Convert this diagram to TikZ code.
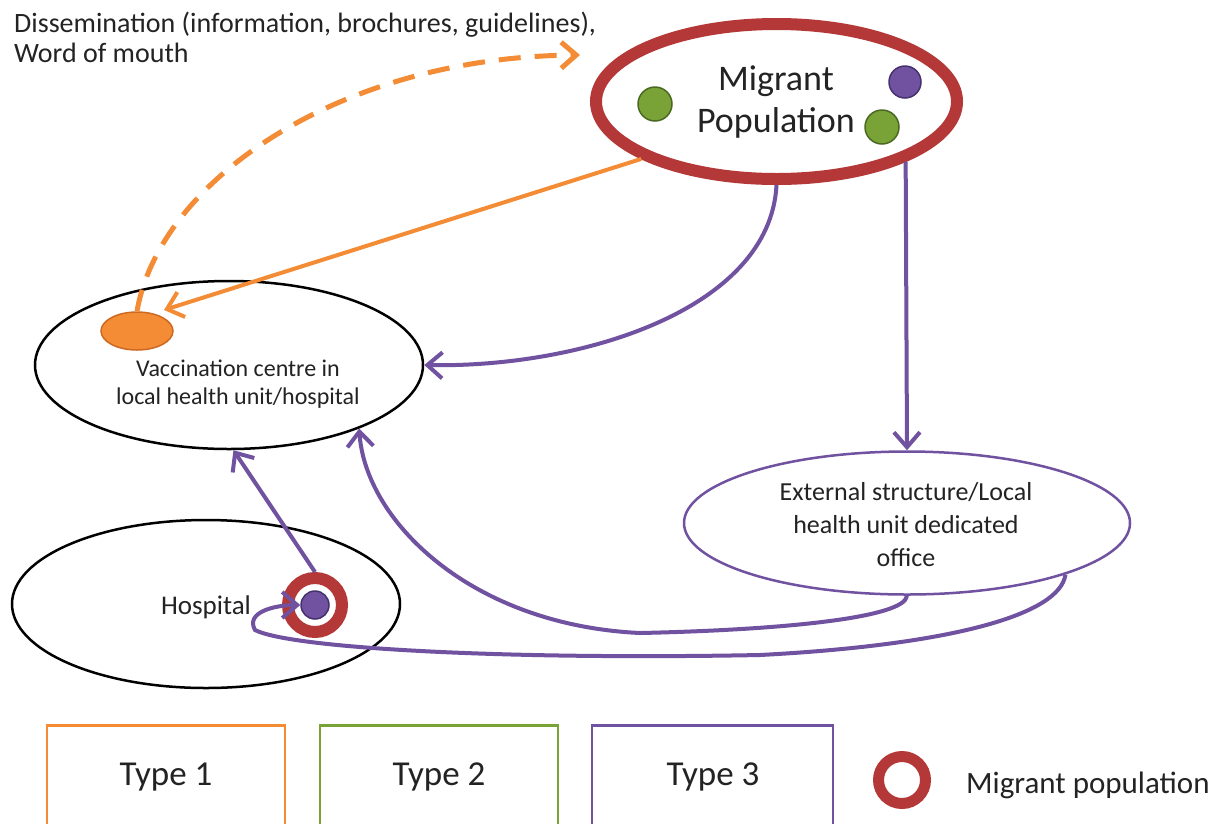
\documentclass[tikz,border=0pt]{standalone}
\usepackage{fontspec}
\setmainfont{Carlito}
\usetikzlibrary{arrows.meta,shapes.geometric}
\definecolor{orng}{RGB}{243,140,52}
\definecolor{orngd}{RGB}{205,105,35}
\definecolor{purp}{RGB}{112,82,160}
\definecolor{purpd}{RGB}{70,50,110}
\definecolor{grn}{RGB}{122,163,55}
\definecolor{grnd}{RGB}{75,105,35}
\definecolor{redr}{RGB}{181,56,56}
\definecolor{txt}{RGB}{35,35,35}
\begin{document}
\begin{tikzpicture}[x=1pt,y=-1pt,
  ell/.style={ellipse,draw,inner sep=0pt},
  tip/.style={-{Straight Barb[length=15pt,width=26pt]}},
  oline/.style={draw=orng,line width=4pt,tip},
  pline/.style={draw=purp,line width=4pt,tip},
  dot/.style={circle,inner sep=0pt,minimum size=#1,line width=1.5pt},
  lbox/.style={draw=#1,line width=2.7pt,minimum width=238pt,minimum height=100pt,inner sep=0pt,anchor=north},
  txtn/.style={text=txt,align=center,inner sep=0pt}
]
\clip (0,0) rectangle (1220,823);
\fill[white] (0,0) rectangle (1220,823);

% migrant population
\node[ell,draw=redr,line width=12pt,minimum width=361pt,minimum height=155pt] (mig) at (776.5,101.5) {};
\node[txtn,font=\fontsize{36}{42}\selectfont] (migt) at (776,102) {Migrant\\Population};
\node[dot=34pt,fill=grn,draw=grnd] (g1) at (655,104) {};
\node[dot=34pt,fill=grn,draw=grnd] (g2) at (882,127) {};
\node[dot=32pt,fill=purp,draw=purpd] (p1) at (905,82) {};

% vaccination centre
\node[ell,draw=black,line width=2.5pt,minimum width=388pt,minimum height=168pt] (vac) at (229,365) {};
\node[ellipse,fill=orng,draw=orngd,line width=1.5pt,inner sep=0pt,minimum width=72pt,minimum height=38pt] (odot) at (137,331) {};
\node[txtn,font=\fontsize{24}{28}\selectfont] (vact) at (238,384) {Vaccination centre in\\local health unit/hospital};

% hospital
\node[ell,draw=black,line width=2.5pt,minimum width=388pt,minimum height=168pt] (hos) at (206,604) {};
\node[txtn,font=\fontsize{27}{30}\selectfont] (host) at (206,607) {Hospital};
\node[circle,draw=redr,line width=12pt,fill=white,minimum size=54pt,inner sep=0pt] (ring) at (315,605) {};
\node[dot=28pt,fill=purp,draw=purpd] (p2) at (315,605) {};

% external structure
\node[ell,draw=purp,line width=2.5pt,minimum width=446pt,minimum height=143pt] (ext) at (907,523) {};
\node[txtn,font=\fontsize{26}{33}\selectfont] (extt) at (906,525) {External structure/Local\\health unit dedicated\\office};

% text top-left
\node[txtn,align=left,anchor=north west,font=\fontsize{28}{30}\selectfont] (diss) at (14,12) {Dissemination (information, brochures, guidelines),\\Word of mouth};

% connectors
\coordinate (dissend) at (580,55);
\draw[oline,dash pattern=on 22pt off 14pt,line width=5pt] (odot.north) .. controls (160,180) and (340,57) .. (dissend);
\coordinate (otip) at (164,310);
\draw[oline] (mig.203) -- (otip);
\draw[pline] (mig.south) .. controls (770,310) and (580,368) .. (vac.east);
\draw[pline] (mig.-25) -- (ext.north);
\coordinate (c5) at (640,633);
\draw[pline] (ext.south) .. controls (905,618) and (780,630) .. (c5) .. controls (470,625) and (365,520) .. (vac.-26);
\coordinate (c6a) at (760,655);
\coordinate (c6b) at (255,630);
\draw[pline] (ext.-18) .. controls (1060,615) and (950,645) .. (c6a) .. controls (500,660) and (290,648) .. (c6b) .. controls (245,612) and (275,605) .. (p2.west);
\draw[pline] (ring.north) -- (vac.-87);

% legend
\node[lbox=orng] (t1) at (166,724) {};
\node[txtn,font=\fontsize{35}{40}\selectfont] at (166,777) {Type 1};
\node[lbox=grn] (t2) at (439,724) {};
\node[txtn,font=\fontsize{35}{40}\selectfont] at (439,777) {Type 2};
\node[lbox=purp,minimum width=241pt] (t3) at (712.5,724) {};
\node[txtn,font=\fontsize{35}{40}\selectfont] at (713,777) {Type 3};
\node[circle,draw=redr,line width=11pt,minimum size=47pt,inner sep=0pt] (lring) at (902,780) {};
\node[txtn,anchor=west,font=\fontsize{31}{36}\selectfont] (lt) at (966,785) {Migrant population};
\end{tikzpicture}
\end{document}
